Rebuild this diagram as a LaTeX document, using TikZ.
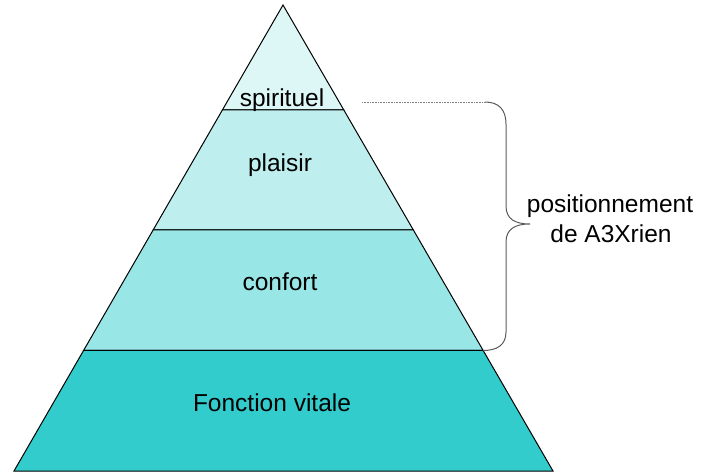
\documentclass[tikz,border=0pt]{standalone}
\usepackage{fontspec}
\setmainfont{Liberation Sans}
\usetikzlibrary{calc}
\definecolor{cspi}{RGB}{221,247,247}
\definecolor{cpla}{RGB}{191,238,238}
\definecolor{ccon}{RGB}{153,230,230}
\definecolor{cvit}{RGB}{51,204,204}
\definecolor{cbrace}{RGB}{90,90,90}
\begin{document}
\begin{tikzpicture}[x=1pt,y=-1pt,
  lbl/.style={font=\fontsize{24.5}{30}\selectfont, inner sep=0pt, anchor=base},
  layer/.style={draw=black, line width=1pt, line join=miter},
  bracestyle/.style={draw=cbrace, line width=1pt},
  dotline/.style={draw=gray, line width=0.6pt, densely dotted}]
\useasboundingbox (0,0) rectangle (711,472);
\coordinate (A) at (283,5);
\coordinate (L) at (14,471);
\coordinate (R) at (553,471);
\coordinate (L1) at ($(A)!0.2253!(L)$);
\coordinate (R1) at ($(A)!0.2253!(R)$);
\coordinate (L2) at ($(A)!0.4828!(L)$);
\coordinate (R2) at ($(A)!0.4828!(R)$);
\coordinate (L3) at ($(A)!0.7414!(L)$);
\coordinate (R3) at ($(A)!0.7414!(R)$);
\filldraw[layer, fill=cspi] (A) -- (R1) -- (L1) -- cycle;
\filldraw[layer, fill=cpla] (L1) -- (R1) -- (R2) -- (L2) -- cycle;
\filldraw[layer, fill=ccon] (L2) -- (R2) -- (R3) -- (L3) -- cycle;
\filldraw[layer, fill=cvit] (L3) -- (R3) -- (R) -- (L) -- cycle;
\node[lbl] (spi) at (282,106) {spirituel};
\node[lbl] (pla) at (280,171) {plaisir};
\node[lbl] (con) at (280,290) {confort};
\node[lbl] (vit) at (272,411) {Fonction vitale};
\coordinate (dl) at (362,102);
\coordinate (bt) at (485,102);
\coordinate (tip) at (530,224);
\draw[dotline] (dl) -- (bt);
\draw[bracestyle] (bt) .. controls (499,102) and (506,110) .. (506,124)
  -- (506,206) .. controls (506,219) and (515,224) .. (tip)
  .. controls (515,224) and (506,229) .. (506,242)
  -- (506,332) .. controls (506,345) and (497,350.5) .. (R3);
\node[lbl] (pos1) at (610,212) {positionnement};
\node[lbl] (pos2) at (611,242) {de A3Xrien};
\end{tikzpicture}
\end{document}
